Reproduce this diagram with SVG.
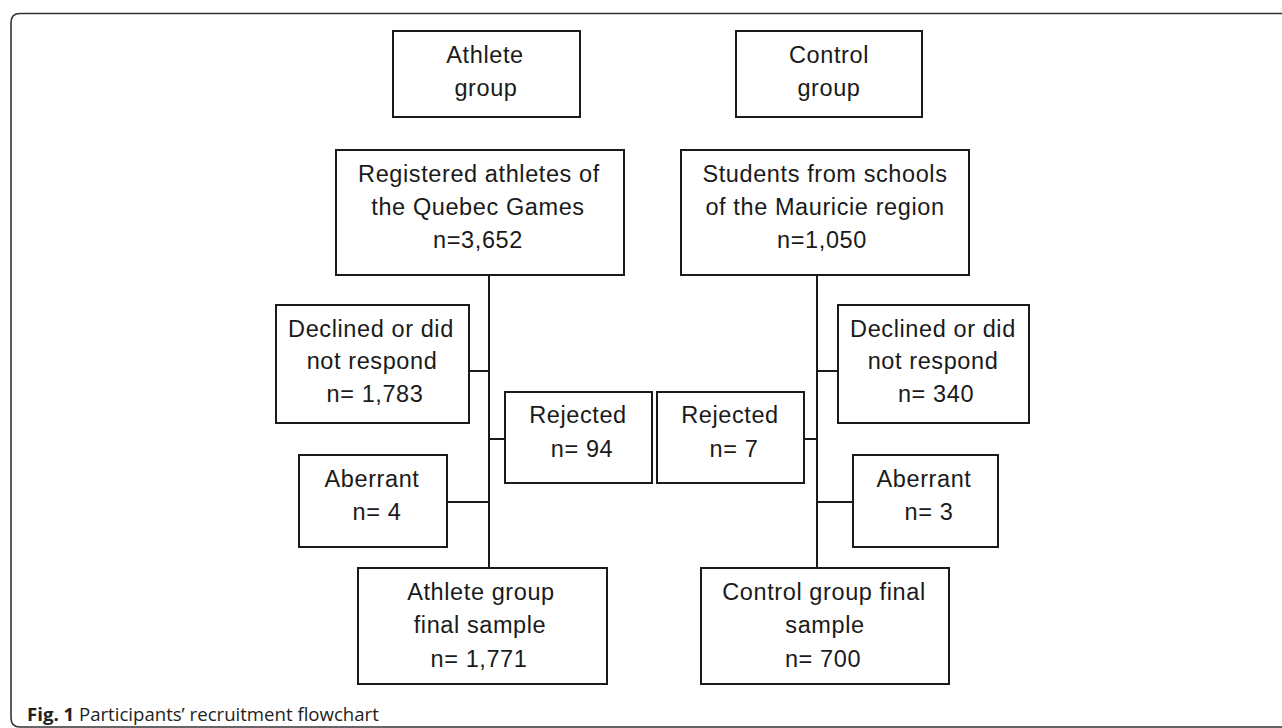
<svg xmlns="http://www.w3.org/2000/svg" width="1282" height="728" viewBox="0 0 1282 728">
<style>
.box{fill:#fff;stroke:#1a1a1a;stroke-width:2}
.ln{fill:none;stroke:#1a1a1a;stroke-width:2}
.t{font-family:"Liberation Sans",Arial,sans-serif;font-size:23.5px;letter-spacing:0.6px;fill:#1a1a1a;text-anchor:middle}
.cap{font-family:"Open Sans","Liberation Sans",sans-serif;font-size:18.6px;fill:#222}
</style>
<rect width="1282" height="728" fill="#fff"/>
<path d="M1290 13.5 H20 Q11 13.5 11 22.5 V718 Q11 727 20 727 H1290" fill="none" stroke="#333" stroke-width="1.6"/>
<g id="connectors">
<line class="ln" x1="489" y1="275" x2="489" y2="568"/>
<line class="ln" x1="817" y1="275" x2="817" y2="568"/>
<line class="ln" x1="469" y1="371" x2="489" y2="371"/>
<line class="ln" x1="489" y1="439" x2="505" y2="439"/>
<line class="ln" x1="447" y1="502" x2="489" y2="502"/>
<line class="ln" x1="817" y1="371" x2="838" y2="371"/>
<line class="ln" x1="804" y1="439" x2="817" y2="439"/>
<line class="ln" x1="817" y1="502" x2="853" y2="502"/>
</g>
<g id="athlete-group">
<rect class="box" x="393" y="31" width="187" height="86"/>
<text class="t" x="485" y="63">Athlete</text>
<text class="t" x="486" y="96">group</text>
</g>
<g id="control-group">
<rect class="box" x="736" y="31" width="186" height="86"/>
<text class="t" x="829" y="63">Control</text>
<text class="t" x="829" y="96">group</text>
</g>
<g id="registered">
<rect class="box" x="336" y="150" width="288" height="125"/>
<text class="t" x="479" y="182">Registered athletes of</text>
<text class="t" x="478" y="215">the Quebec Games</text>
<text class="t" x="478" y="248">n=3,652</text>
</g>
<g id="students">
<rect class="box" x="681" y="150" width="288" height="125"/>
<text class="t" x="825" y="182">Students from schools</text>
<text class="t" x="825" y="215">of the Mauricie region</text>
<text class="t" x="822" y="248">n=1,050</text>
</g>
<g id="declined-athlete">
<rect class="box" x="276" y="305" width="193" height="118"/>
<text class="t" x="371" y="337">Declined or did</text>
<text class="t" x="372" y="369">not respond</text>
<text class="t" x="375" y="402">n= 1,783</text>
</g>
<g id="rejected-athlete">
<rect class="box" x="505" y="392" width="147" height="91"/>
<text class="t" x="578" y="423">Rejected</text>
<text class="t" x="582" y="457">n= 94</text>
</g>
<g id="aberrant-athlete">
<rect class="box" x="299" y="455" width="148" height="92"/>
<text class="t" x="372" y="487">Aberrant</text>
<text class="t" x="377" y="520">n= 4</text>
</g>
<g id="final-athlete">
<rect class="box" x="358" y="568" width="249" height="116"/>
<text class="t" x="481" y="600">Athlete group</text>
<text class="t" x="480" y="633">final sample</text>
<text class="t" x="479" y="667">n= 1,771</text>
</g>
<g id="rejected-control">
<rect class="box" x="657" y="392" width="147" height="91"/>
<text class="t" x="730" y="423">Rejected</text>
<text class="t" x="734" y="457">n= 7</text>
</g>
<g id="declined-control">
<rect class="box" x="838" y="305" width="191" height="118"/>
<text class="t" x="933" y="337">Declined or did</text>
<text class="t" x="933" y="369">not respond</text>
<text class="t" x="936" y="402">n= 340</text>
</g>
<g id="aberrant-control">
<rect class="box" x="853" y="455" width="145" height="92"/>
<text class="t" x="924" y="487">Aberrant</text>
<text class="t" x="929" y="520">n= 3</text>
</g>
<g id="final-control">
<rect class="box" x="701" y="568" width="248" height="116"/>
<text class="t" x="824" y="600">Control group final</text>
<text class="t" x="825" y="633">sample</text>
<text class="t" x="823" y="667">n= 700</text>
</g>
<text class="cap" x="27" y="721"><tspan font-weight="bold">Fig. 1</tspan> Participants’ recruitment flowchart</text>
</svg>
